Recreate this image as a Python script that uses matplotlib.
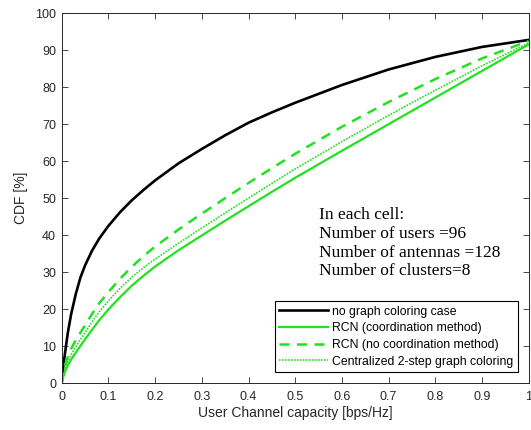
import matplotlib.pyplot as plt

# capacity points (bps/Hz) and CDF values [%]
x_pts = [0, 0.003, 0.007, 0.013, 0.02, 0.03, 0.04, 0.05, 0.065, 0.08, 0.1,
         0.125, 0.15, 0.175, 0.2, 0.25, 0.3, 0.35, 0.4, 0.45, 0.5,
         0.6, 0.7, 0.8, 0.9, 1.0]
cdf_no_coloring = [0, 4, 8, 13.5, 18.5, 24, 28.5, 31.8, 35.8, 39, 42.5,
                   46.2, 49.4, 52.2, 54.8, 59.4, 63.3, 67, 70.4, 73.2, 75.8,
                   80.6, 84.8, 88.2, 90.9, 92.8]
cdf_rcn_coord = [0, 1.5, 3, 4.8, 6.3, 8.2, 10, 11.8, 14.4, 16.9, 19.9,
                 23.2, 26.3, 29, 31.5, 35.9, 39.9, 43.9, 47.8, 51.7, 55.5,
                 62.8, 70, 77.2, 84.4, 91.6]
cdf_rcn_nocoord = [0, 2.5, 4.8, 7, 9.2, 11.6, 13.6, 15.6, 18.7, 21.5, 24.6,
                   28.2, 31.4, 34.3, 36.9, 41.5, 45.8, 50, 54.1, 58.1, 62,
                   69.3, 76, 82.2, 87.8, 92.5]
cdf_central = [0, 2, 3.8, 5.8, 7.6, 9.8, 11.8, 13.6, 16.6, 19.2, 22.2,
               25.6, 28.6, 31.2, 33.5, 37.8, 41.9, 46, 50, 54, 57.9,
               65.3, 72.4, 79.2, 85.8, 92]

labels = ["no graph coloring case", "RCN (coordination method)",
          "RCN (no coordination method)", "Centralized 2-step graph coloring"]
x_ticks = [0, 0.1, 0.2, 0.3, 0.4, 0.5, 0.6, 0.7, 0.8, 0.9, 1]
x_ticklabels = ["0", "0.1", "0.2", "0.3", "0.4", "0.5", "0.6", "0.7", "0.8", "0.9", "1"]
y_ticks = [0, 10, 20, 30, 40, 50, 60, 70, 80, 90, 100]

plt.rcParams['font.family'] = ['Liberation Sans', 'DejaVu Sans']
green = '#22e022'
fig = plt.figure(figsize=(5.31, 4.30), dpi=100)
ax = fig.add_axes([0.1162, 0.1093, 0.8795, 0.8598])

ax.plot(x_pts, cdf_no_coloring, color='black', lw=1.9, label=labels[0])
ax.plot(x_pts, cdf_rcn_coord, color=green, lw=1.6, label=labels[1])
ax.plot(x_pts, cdf_rcn_nocoord, color=green, lw=1.8, ls=(0, (4, 3)), label=labels[2])
ax.plot(x_pts, cdf_central, color=green, lw=1.2, ls=(0, (1, 0.8)), label=labels[3])

ax.set_xlim(0, 1)
ax.set_ylim(0, 100)
ax.set_xticks(x_ticks)
ax.set_xticklabels(x_ticklabels)
ax.set_yticks(y_ticks)
ax.tick_params(direction='in', top=True, right=True, length=4, width=0.6,
               labelsize=9, colors='#262626', pad=4)
ax.tick_params(axis='x', pad=6)
for s in ax.spines.values():
    s.set_color('#262626')
    s.set_linewidth(0.7)

ax.set_xlabel("User Channel capacity [bps/Hz]", fontsize=10, color='#262626', labelpad=2)
ax.set_ylabel("CDF [%]", fontsize=10, color='#262626', labelpad=5)

ax.text(0.552, 0.475, "In each cell:\nNumber of users =96\nNumber of antennas =128\nNumber of clusters=8",
        transform=ax.transAxes, family='Liberation Serif', fontsize=12.5,
        va='top', ha='left', linespacing=1.22)

leg = ax.legend(loc='lower right', bbox_to_anchor=(0.976, 0.03), fontsize=8.8,
                frameon=True, fancybox=False, edgecolor='black', framealpha=1,
                handlelength=4.0, handletextpad=0.3, borderpad=0.35, labelspacing=0.38,
                borderaxespad=0)
leg.get_frame().set_linewidth(0.8)

fig.savefig("out.png", dpi=100)
